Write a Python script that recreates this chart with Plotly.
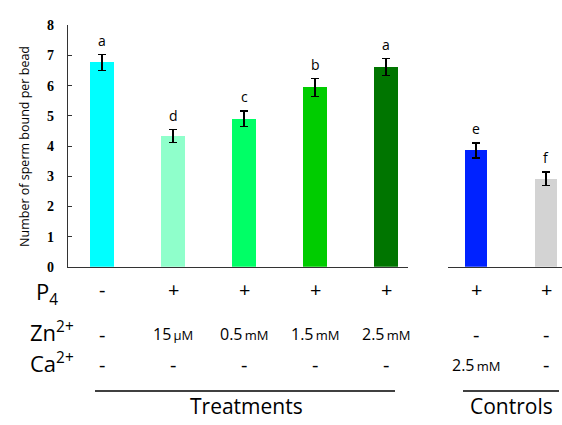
import plotly.graph_objects as go

W, H = 562, 425

# ---- data ----
treat_cats = ["T1", "T2", "T3", "T4", "T5"]
treat_vals = [6.76, 4.34, 4.90, 5.94, 6.61]
treat_err = [0.27, 0.22, 0.26, 0.29, 0.28]
treat_letters = ["a", "d", "c", "b", "a"]
treat_colors = ["#00FFFF", "#8FFFCB", "#00FF66", "#00CC00", "#007500"]

ctrl_cats = ["C1", "C2"]
ctrl_vals = [3.85, 2.91]
ctrl_err = [0.25, 0.23]
ctrl_letters = ["e", "f"]
ctrl_colors = ["#0022FF", "#D3D3D3"]

p4_treat = ["-", "+", "+", "+", "+"]
zn_treat = ["-", "15 μM", "0.5 mM", "1.5 mM", "2.5 mM"]
ca_treat = ["-", "-", "-", "-", "-"]
p4_ctrl = ["+", "+"]
zn_ctrl = ["-", "-"]
ca_ctrl = ["2.5 mM", "-"]

y_ticks = [0, 1, 2, 3, 4, 5, 6, 7, 8]


def px(x):
    return x / W


def py(y):
    return 1 - y / H


SANS = "Open Sans, Liberation Sans, sans-serif"

fig = go.Figure()
fig.add_trace(go.Bar(
    x=treat_cats, y=treat_vals, marker_color=treat_colors,
    marker_line_width=0, width=0.33,
    error_y=dict(type="data", array=treat_err, color="black", thickness=1.2, width=4),
    xaxis="x", yaxis="y", showlegend=False))
fig.add_trace(go.Bar(
    x=ctrl_cats, y=ctrl_vals, marker_color=ctrl_colors,
    marker_line_width=0, width=0.32,
    error_y=dict(type="data", array=ctrl_err, color="black", thickness=1.2, width=4),
    xaxis="x2", yaxis="y2", showlegend=False))

y_dom = [py(269.3), py(269.3 - 8 * 31.3)]

fig.update_layout(
    width=W, height=H,
    margin=dict(l=0, r=0, t=0, b=0),
    paper_bgcolor="white", plot_bgcolor="white",
    xaxis=dict(domain=[px(68), px(408)], type="category",
               range=[-34 / 71, -34 / 71 + 340 / 71],
               showline=True, linecolor="#333", linewidth=1.2,
               showticklabels=False, ticks="", showgrid=False, zeroline=False,
               anchor="y"),
    yaxis=dict(domain=y_dom, range=[0, 8], tickvals=y_ticks,
               showline=True, linecolor="#333", linewidth=1.2,
               ticks="inside", ticklen=4, tickcolor="#333",
               tickfont=dict(family="Liberation Serif", size=14, color="black", weight="bold"),
               ticklabelstandoff=10,
               showgrid=False, zeroline=False, anchor="x"),
    xaxis2=dict(domain=[px(448), px(562)], type="category",
                range=[-0.4, -0.4 + 114 / 70],
                showline=True, linecolor="#333", linewidth=1.2,
                showticklabels=False, ticks="", showgrid=False, zeroline=False,
                anchor="y2"),
    yaxis2=dict(domain=y_dom, range=[0, 8], visible=False, anchor="x2"),
    bargap=0,
)

ann = []


def A(**kw):
    kw.setdefault("xanchor", "center")
    kw.setdefault("yanchor", "middle")
    kw.setdefault("showarrow", False)
    ann.append(kw)


# y-axis title
A(text="Number of sperm bound per bead", x=px(25), y=py(145),
  xref="paper", yref="paper", textangle=-90,
  font=dict(family=SANS, size=12.5, color="black"))

# significance letters
for c, v, e, l in zip(treat_cats, treat_vals, treat_err, treat_letters):
    A(text=l, x=c, y=v + e, xref="x", yref="y", yshift=14,
      font=dict(family=SANS, size=14, color="black"))
for c, v, e, l in zip(ctrl_cats, ctrl_vals, ctrl_err, ctrl_letters):
    A(text=l, x=c, y=v + e, xref="x2", yref="y2", yshift=14,
      font=dict(family=SANS, size=14, color="black"))

# row labels
A(text="P<sub>4</sub>", x=px(47), y=py(296), xref="paper", yref="paper",
  font=dict(family=SANS, size=22, color="black"))
A(text="Zn<sup>2+</sup>", x=px(52), y=py(336), xref="paper", yref="paper",
  font=dict(family=SANS, size=22, color="black"))
A(text="Ca<sup>2+</sup>", x=px(52), y=py(368), xref="paper", yref="paper",
  font=dict(family=SANS, size=22, color="black"))


def cell(txt):
    if txt.endswith("μM") or txt.endswith("mM"):
        num, unit = txt.split(" ")
        return f"{num}<span style='font-size:13px'>\u2009{unit}</span>"
    return txt


def add_rows(cats, xref, p4, zn, ca):
    for c, a, b, d in zip(cats, p4, zn, ca):
        A(text=a, x=c, y=py(293), xref=xref, yref="paper",
          font=dict(family=SANS, size=20, color="black"))
        A(text=cell(b), x=c, y=py(339), xref=xref, yref="paper",
          font=dict(family=SANS, size=20 if b == "-" else 16, color="black"))
        A(text=cell(d), x=c, y=py(371), xref=xref, yref="paper",
          font=dict(family=SANS, size=20 if d == "-" else 16, color="black"))


add_rows(treat_cats, "x", p4_treat, zn_treat, ca_treat)
add_rows(ctrl_cats, "x2", p4_ctrl, zn_ctrl, ca_ctrl)

A(text="Treatments", x=px(246), y=py(414), xref="paper", yref="paper",
  font=dict(family=SANS, size=21, color="black"))
A(text="Controls", x=px(511), y=py(414), xref="paper", yref="paper",
  font=dict(family=SANS, size=21, color="black"))

fig.update_layout(annotations=ann)

fig.add_shape(type="line", xref="paper", yref="paper", x0=px(95), x1=px(395),
              y0=py(398), y1=py(398), line=dict(color="black", width=1.5))
fig.add_shape(type="line", xref="paper", yref="paper", x0=px(463), x1=px(559),
              y0=py(398), y1=py(398), line=dict(color="black", width=1.5))

fig.write_html("out.html", config={"displayModeBar": False})

# remove default page margin so the figure fills the window exactly
with open("out.html", encoding="utf-8") as f:
    html = f.read()
html = html.replace("<head>", "<head><style>html,body{margin:0;padding:0;overflow:hidden}</style>", 1)
with open("out.html", "w", encoding="utf-8") as f:
    f.write(html)
